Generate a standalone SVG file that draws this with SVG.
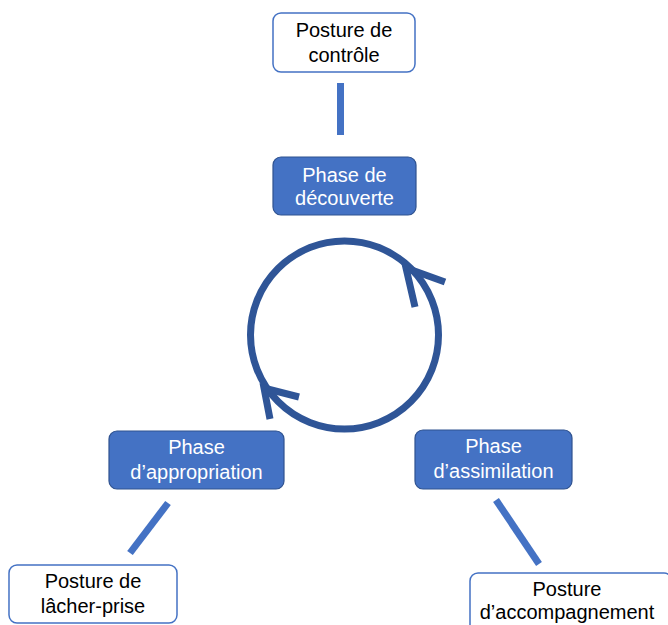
<svg xmlns="http://www.w3.org/2000/svg" width="668" height="625" viewBox="0 0 668 625">
<style>
.posture{fill:#ffffff;stroke:#4472C4;stroke-width:1.5}
.phase{fill:#4472C4;stroke:#2F528F;stroke-width:1.2}
.t{font-family:"Liberation Sans",Arial,sans-serif;font-size:20px;text-anchor:middle}
.dark{fill:#000000}
.light{fill:#ffffff}
.conn{stroke:#4472C4;stroke-width:7;fill:none}
.cyc{stroke:#2F5597;stroke-width:7;fill:none}
</style>
<rect width="668" height="625" fill="#ffffff"/>
<g id="connectors">
<line class="conn" x1="340.5" y1="83" x2="340.5" y2="135"/>
<line class="conn" x1="168" y1="503" x2="130" y2="553"/>
<line class="conn" x1="496" y1="500" x2="539" y2="564"/>
<circle class="cyc" cx="344.5" cy="335" r="94"/>
<polyline class="cyc" points="445,282 406,268 415,307" stroke-linejoin="miter"/>
<polyline class="cyc" points="299,397 264,388 270,419" stroke-linejoin="miter"/>
</g>
<g id="posture-controle">
<rect class="posture" x="273" y="13" width="142" height="59" rx="8"/>
<text class="t dark" x="344" y="37">Posture de</text>
<text class="t dark" x="344" y="62">contrôle</text>
</g>
<g id="phase-decouverte">
<rect class="phase" x="273" y="157" width="143" height="58" rx="8"/>
<text class="t light" x="344.5" y="182">Phase de</text>
<text class="t light" x="344.5" y="205">découverte</text>
</g>
<g id="phase-appropriation">
<rect class="phase" x="109" y="431" width="175" height="58" rx="8"/>
<text class="t light" x="196.5" y="454">Phase</text>
<text class="t light" x="196.5" y="479">d’appropriation</text>
</g>
<g id="phase-assimilation">
<rect class="phase" x="415" y="430" width="157" height="59" rx="8"/>
<text class="t light" x="493.5" y="453">Phase</text>
<text class="t light" x="493.5" y="478">d’assimilation</text>
</g>
<g id="posture-lacher-prise">
<rect class="posture" x="9" y="565" width="168" height="58" rx="8"/>
<text class="t dark" x="93" y="588">Posture de</text>
<text class="t dark" x="93" y="613">lâcher-prise</text>
</g>
<g id="posture-accompagnement">
<rect class="posture" x="470" y="573" width="202" height="60" rx="8"/>
<text class="t dark" x="567" y="596">Posture</text>
<text class="t dark" x="567" y="619">d’accompagnement</text>
</g>
</svg>
